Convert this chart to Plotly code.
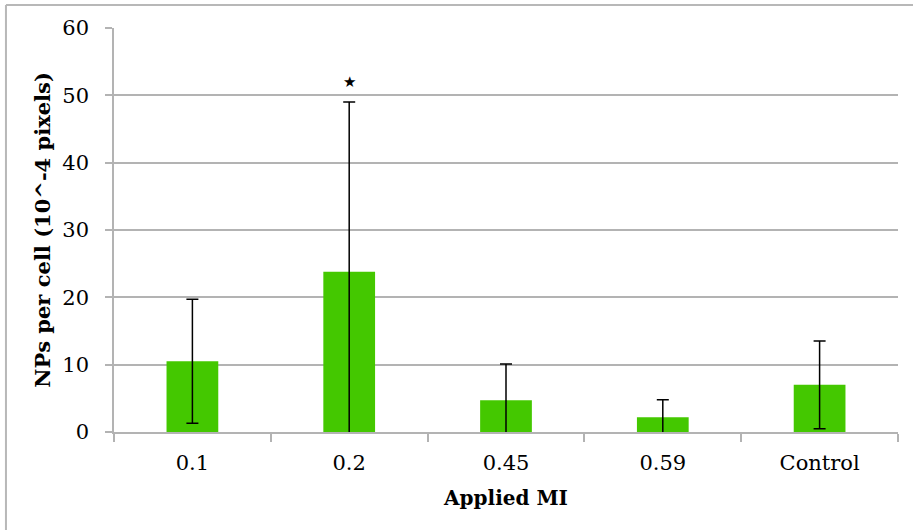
import plotly.graph_objects as go

categories = ["0.1", "0.2", "0.45", "0.59", "Control"]
values = [10.5, 23.8, 4.7, 2.2, 7.0]
errors = [9.2, 25.2, 5.4, 2.6, 6.5]
star_category = "0.2"
star_value = 52
y_ticks = [0, 10, 20, 30, 40, 50, 60]

grid = "#b3b3b3"
font = "DejaVu Serif"

fig = go.Figure()
fig.add_trace(go.Bar(
    x=categories, y=values,
    marker=dict(color="#44c800", line=dict(width=0)),
    error_y=dict(type="data", array=errors, visible=True, color="black",
                 thickness=1.5, width=6),
))

fig.add_annotation(x=categories.index(star_category), y=star_value, text="★", showarrow=False,
                   font=dict(size=15, color="black", family=font))

# outer frame lines (top and left)
fig.add_shape(type="line", xref="paper", yref="paper",
              x0=-0.1378, x1=1.02, y0=1.0569, y1=1.0569,
              line=dict(color="#b8b8b8", width=2))
fig.add_shape(type="line", xref="paper", yref="paper",
              x0=-0.1378, x1=-0.1378, y0=1.0569, y1=-0.25,
              line=dict(color="#b8b8b8", width=2))

fig.update_layout(
    width=913, height=530,
    margin=dict(l=114, r=15, t=28, b=98),
    paper_bgcolor="white", plot_bgcolor="white",
    bargap=0.67,
    showlegend=False,
    font=dict(family=font, color="black", size=21),
    xaxis=dict(
        type="category", range=[-0.5, 4.5],
        showline=True, linecolor=grid, linewidth=1.5,
        ticks="outside", tickson="boundaries", ticklen=8, tickcolor=grid, tickwidth=1.5,
        tickfont=dict(size=21),
        ticklabelstandoff=11,
        title=dict(text="<b>Applied MI</b>", font=dict(size=20), standoff=17),
        showgrid=False,
    ),
    yaxis=dict(
        range=[0, 60], tickvals=y_ticks,
        showline=True, linecolor=grid, linewidth=1.5,
        showgrid=True, gridcolor=grid, gridwidth=1.5,
        ticks="outside", ticklen=7, tickcolor=grid, tickwidth=1.5,
        tickfont=dict(size=21),
        ticklabelstandoff=12,
        zeroline=False,
        title=dict(text="<b>NPs per cell (10^-4 pixels)</b>", font=dict(size=21), standoff=6),
    ),
)

fig.write_html("out.html")
